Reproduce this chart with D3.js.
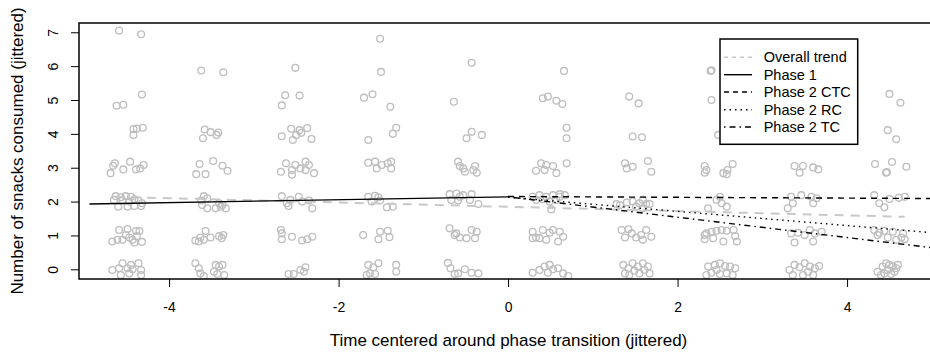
<!DOCTYPE html>
<html><head><meta charset="utf-8">
<script src="https://cdn.jsdelivr.net/npm/d3@7"></script>
<style>
body{margin:0;background:#fff}
text{font-family:"Liberation Sans",Arial,Helvetica,sans-serif;fill:#000}
</style>
</head><body>
<svg id="c" width="930" height="354"></svg>
<script>
// ---- data (jittered observations, one array per time point) ----
const t1 = [[-4.59,7.05],[-4.33,6.94],[-4.62,4.83],[-4.54,4.86],[-4.32,5.16],[-4.42,4.14],[-4.38,4.16],[-4.31,4.18],[-4.42,3.97],
 [-4.69,2.84],[-4.66,3.06],[-4.64,3.13],[-4.54,2.95],[-4.46,3.18],[-4.39,2.95],[-4.34,2.98],[-4.30,3.08],
 [-4.63,2.16],[-4.57,2.13],[-4.51,2.16],[-4.45,2.14],[-4.41,2.07],[-4.36,2.03],[-4.32,1.95],[-4.60,1.85],[-4.49,1.85],[-4.41,1.87],[-4.33,1.87],[-4.65,2.05],[-4.55,2.03],[-4.47,2.00],
 [-4.59,1.16],[-4.49,1.19],[-4.39,1.13],[-4.35,1.13],[-4.67,0.82],[-4.61,0.87],[-4.55,0.87],[-4.47,0.94],[-4.43,0.87],[-4.41,0.79],[-4.32,0.81],[-4.38,0.98],[-4.51,1.01],
 [-4.55,0.18],[-4.45,0.13],[-4.36,0.18],[-4.67,-0.02],[-4.59,0.03],[-4.49,0.03],[-4.43,0.00],[-4.33,-0.02],[-4.57,-0.17],[-4.47,-0.12],[-4.33,-0.17]];
const t2 = [[-3.62,5.87],[-3.36,5.82],[-3.58,4.13],[-3.51,4.05],[-3.44,3.97],[-3.42,4.04],[-3.60,3.87],
 [-3.64,3.11],[-3.48,3.20],[-3.37,3.06],[-3.31,2.91],[-3.68,2.81],[-3.57,2.81],
 [-3.59,2.16],[-3.55,2.10],[-3.62,2.03],[-3.61,1.90],[-3.55,1.80],[-3.45,1.80],[-3.39,1.85],[-3.33,1.80],[-3.41,1.95],[-3.37,1.90],
 [-3.57,1.13],[-3.63,0.94],[-3.69,0.85],[-3.59,0.87],[-3.51,0.94],[-3.41,0.98],[-3.36,1.01],[-3.38,0.92],[-3.65,0.82],
 [-3.69,0.18],[-3.65,0.03],[-3.63,-0.12],[-3.59,-0.20],[-3.45,0.13],[-3.41,0.08],[-3.37,0.13],[-3.47,-0.07],[-3.43,-0.14],[-3.35,-0.17]];
const t3 = [[-2.51,5.95],[-2.63,5.14],[-2.46,5.13],[-2.67,4.84],
 [-2.67,3.93],[-2.56,4.15],[-2.46,4.11],[-2.37,4.17],[-2.32,3.85],[-2.54,3.82],[-2.50,3.97],[-2.44,4.03],
 [-2.62,3.13],[-2.51,3.08],[-2.39,3.18],[-2.35,3.08],[-2.68,2.88],[-2.55,2.93],[-2.55,2.79],[-2.39,2.93],[-2.29,2.84],[-2.45,2.98],
 [-2.67,2.16],[-2.57,2.05],[-2.47,2.14],[-2.35,2.03],[-2.59,1.87],[-2.61,1.95],[-2.43,2.00],[-2.31,1.80],
 [-2.68,1.16],[-2.67,1.06],[-2.67,0.89],[-2.55,0.96],[-2.43,0.85],[-2.37,0.89],[-2.31,0.96],
 [-2.59,-0.14],[-2.53,-0.14],[-2.45,-0.02],[-2.39,0.06],[-2.41,-0.07]];
const t4 = [[-1.51,6.81],[-1.50,5.83],[-1.70,5.07],[-1.60,5.17],[-1.39,4.80],[-1.65,3.82],[-1.36,4.00],[-1.32,4.18],
 [-1.65,3.15],[-1.57,3.18],[-1.49,3.08],[-1.42,3.13],[-1.38,3.18],[-1.38,2.98],[-1.55,2.98],
 [-1.65,2.14],[-1.57,2.17],[-1.53,2.13],[-1.61,2.00],[-1.43,1.83],[-1.36,1.85],[-1.51,2.03],
 [-1.71,1.01],[-1.51,1.11],[-1.42,1.14],[-1.53,0.89],[-1.40,0.95],
 [-1.65,0.13],[-1.59,0.06],[-1.53,0.18],[-1.63,-0.12],[-1.57,-0.14],[-1.67,-0.17],[-1.32,0.13],[-1.32,-0.07]];
const t5 = [[-0.43,6.10],[-0.64,4.95],[-0.49,3.87],[-0.43,4.06],[-0.31,3.97],
 [-0.59,3.18],[-0.57,3.05],[-0.51,2.88],[-0.39,3.05],[-0.37,2.85],[-0.41,2.93],[-0.53,2.98],
 [-0.69,2.22],[-0.61,2.24],[-0.53,2.19],[-0.43,2.22],[-0.67,2.05],[-0.59,2.03],[-0.35,1.93],[-0.45,2.05],[-0.57,2.14],
 [-0.69,1.21],[-0.63,1.01],[-0.57,0.94],[-0.49,0.92],[-0.43,1.16],[-0.37,1.11],[-0.39,0.92],[-0.61,1.06],
 [-0.71,0.19],[-0.68,0.03],[-0.59,-0.12],[-0.51,0.00],[-0.43,-0.10],[-0.35,-0.12],[-0.63,-0.14]];
const t6 = [[0.66,5.86],[0.41,5.05],[0.47,5.10],[0.57,4.98],[0.64,4.88],[0.69,4.18],[0.69,3.87],
 [0.33,2.91],[0.39,3.13],[0.45,3.08],[0.53,3.05],[0.57,2.84],[0.69,3.13],[0.43,2.93],
 [0.29,2.14],[0.37,2.19],[0.45,2.14],[0.53,2.19],[0.61,2.22],[0.67,2.19],[0.33,2.05],[0.41,2.07],[0.49,2.00],[0.57,2.05],[0.51,1.77],[0.61,2.14],
 [0.29,1.11],[0.33,0.94],[0.41,1.16],[0.49,1.08],[0.53,1.16],[0.61,1.11],[0.65,0.96],[0.45,0.87],[0.37,0.92],[0.59,0.82],[0.29,0.92],
 [0.29,-0.10],[0.37,-0.02],[0.43,0.08],[0.49,0.13],[0.53,0.00],[0.59,0.03],[0.65,-0.12],[0.71,-0.20],[0.47,-0.10]];
const t7 = [[1.43,5.10],[1.54,4.90],[1.47,3.92],[1.58,3.90],
 [1.38,3.13],[1.40,2.98],[1.47,3.03],[1.65,3.20],[1.69,2.88],
 [1.32,1.90],[1.40,1.97],[1.47,2.00],[1.55,1.95],[1.63,1.93],[1.51,1.85],[1.59,1.80],[1.28,1.93],[1.67,1.93],[1.59,2.05],
 [1.34,1.16],[1.42,1.18],[1.46,1.06],[1.51,0.94],[1.57,1.01],[1.63,1.16],[1.69,0.96],[1.59,0.87],[1.38,0.94],
 [1.36,0.13],[1.42,0.03],[1.47,0.18],[1.53,0.08],[1.59,0.18],[1.65,0.08],[1.67,-0.12],[1.55,-0.12],[1.43,-0.17],[1.38,-0.12],[1.61,-0.02],[1.49,-0.04]];
const t8 = [[2.39,5.86],[2.40,5.88],[2.40,5.00],[2.48,3.97],
 [2.32,3.05],[2.32,2.85],[2.54,2.84],[2.59,2.93],[2.65,3.11],[2.58,2.81],[2.34,2.93],
 [2.50,2.14],[2.52,1.95],[2.58,1.85],[2.36,1.80],[2.46,2.05],
 [2.32,0.89],[2.34,1.06],[2.40,1.11],[2.46,1.14],[2.52,1.16],[2.58,1.14],[2.66,1.16],[2.68,0.98],[2.70,0.82],[2.54,0.82],[2.42,0.92],[2.32,1.01],
 [2.36,0.08],[2.44,0.13],[2.50,0.18],[2.56,0.10],[2.62,0.08],[2.68,0.03],[2.40,-0.10],[2.50,-0.14],[2.58,-0.12],[2.65,-0.17],[2.46,-0.02],[2.34,-0.17]];
const t9 = [[3.38,3.05],[3.48,3.05],[3.44,2.85],[3.60,3.01],[3.66,2.95],
 [3.34,2.14],[3.46,2.19],[3.58,2.14],[3.64,2.10],[3.36,1.95],[3.30,1.80],[3.60,1.95],
 [3.34,1.06],[3.42,1.08],[3.50,1.01],[3.56,1.16],[3.62,1.06],[3.70,1.11],[3.38,0.79],[3.60,0.82],
 [3.32,-0.02],[3.38,0.13],[3.44,0.06],[3.50,0.18],[3.56,0.08],[3.62,0.03],[3.67,0.10],[3.36,-0.17],[3.48,-0.17],[3.60,-0.17],[3.54,-0.07]];
const t10 = [[4.50,5.18],[4.63,4.92],[4.48,4.11],[4.58,3.84],
 [4.33,3.11],[4.53,3.17],[4.70,3.03],[4.46,2.85],[4.47,2.87],
 [4.32,2.19],[4.50,2.08],[4.61,2.11],[4.68,2.14],[4.38,1.95],[4.44,1.83],
 [4.32,1.16],[4.36,1.01],[4.44,1.14],[4.48,0.94],[4.54,1.11],[4.58,0.87],[4.64,0.94],[4.68,0.89],[4.38,1.08],[4.66,1.06],
 [4.36,-0.07],[4.42,0.08],[4.46,0.18],[4.50,0.13],[4.54,0.08],[4.58,0.03],[4.44,-0.12],[4.52,-0.14],[4.48,-0.02],[4.56,-0.07],[4.40,-0.17],[4.60,0.13]];

// fitted lines (x, y end points)
const trendX = [-4.64, 4.68], trendY = [2.14, 1.55];
const phase1X = [-4.94, 0],   phase1Y = [1.93, 2.14];
const ctcX = [0, 5.06],       ctcY = [2.15, 2.09];
const rcX = [0, 5.06],        rcY = [2.13, 1.07];
const tcX = [0, 5.06],        tcY = [2.14, 0.62];

const xTicks = [-4, -2, 0, 2, 4];
const yTicks = [0, 1, 2, 3, 4, 5, 6, 7];
const legendLabels = ["Overall trend", "Phase 1", "Phase 2 CTC", "Phase 2 RC", "Phase 2 TC"];
const xTitle = "Time centered around phase transition (jittered)";
const yTitle = "Number of snacks consumed (jittered)";

// ---- drawing ----
const svg = d3.select("#c");
const L = 79, T = 23, B = 279, R = 936.9;
const x = d3.scaleLinear().domain([-5.063, 5.06]).range([L, R]);
const y = d3.scaleLinear().domain([-0.286, 7.274]).range([B, T]);

svg.append("defs").append("clipPath").attr("id", "clip")
  .append("rect").attr("x", L).attr("y", T).attr("width", R - L).attr("height", B - T);

const plot = svg.append("g").attr("clip-path", "url(#clip)");
const allPts = [].concat(t1, t2, t3, t4, t5, t6, t7, t8, t9, t10);
plot.selectAll("circle.pt").data(allPts).join("circle")
  .attr("class", "pt")
  .attr("cx", d => x(d[0])).attr("cy", d => y(d[1])).attr("r", 3.4)
  .attr("fill", "none").attr("stroke", "#bebebe").attr("stroke-width", 1.3);

const line = d3.line().x(d => x(d[0])).y(d => y(d[1]));
const zipXY = (xs, ys) => xs.map((v, i) => [v, ys[i]]);
const styles = [
  {xs: trendX, ys: trendY, color: "#c8c8c8", w: 2, dash: "9,7"},
  {xs: phase1X, ys: phase1Y, color: "#000", w: 1.4, dash: null},
  {xs: ctcX, ys: ctcY, color: "#000", w: 1.4, dash: "6,5"},
  {xs: rcX, ys: rcY, color: "#000", w: 1.4, dash: "1.5,4"},
  {xs: tcX, ys: tcY, color: "#000", w: 1.4, dash: "1.5,4,6,4"}
];
styles.forEach(s => {
  plot.append("path").attr("d", line(zipXY(s.xs, s.ys)))
    .attr("fill", "none").attr("stroke", s.color).attr("stroke-width", s.w)
    .attr("stroke-dasharray", s.dash);
});

// axes
const xAxis = svg.append("g").attr("transform", `translate(0,${B})`)
  .call(d3.axisBottom(x).tickValues(xTicks).tickSize(8).tickFormat(d => String(d)));
xAxis.select(".domain").remove();
xAxis.selectAll("line").attr("stroke", "#000").attr("stroke-width", 1);
xAxis.selectAll("text").attr("y", 32.5).attr("dy", 0).attr("font-size", 14)
  .style("font-family", '"Liberation Sans",Arial,sans-serif').attr("fill", "#000");

const yAxis = svg.append("g").attr("transform", `translate(${L},0)`)
  .call(d3.axisLeft(y).tickValues(yTicks).tickSize(8).tickFormat(d => String(d)));
yAxis.select(".domain").remove();
yAxis.selectAll("line").attr("stroke", "#000").attr("stroke-width", 1);
yAxis.selectAll("text").attr("x", 0).attr("dy", 0).attr("text-anchor", "middle")
  .attr("transform", "translate(-21.5,0) rotate(-90)").attr("font-size", 14)
  .style("font-family", '"Liberation Sans",Arial,sans-serif').attr("fill", "#000");

// box
svg.append("rect").attr("x", L).attr("y", T).attr("width", R - L).attr("height", B - T)
  .attr("fill", "none").attr("stroke", "#000").attr("stroke-width", 1.5);

// titles
svg.append("text").attr("x", 508.5).attr("y", 346).attr("text-anchor", "middle")
  .attr("font-size", 17).text(xTitle);
svg.append("text").attr("transform", `translate(23,${(T + B) / 2}) rotate(-90)`)
  .attr("text-anchor", "middle").attr("font-size", 17).text(yTitle);

// legend
const lg = svg.append("g");
lg.append("rect").attr("x", 720).attr("y", 39).attr("width", 137.7).attr("height", 105.3)
  .attr("fill", "#fff").attr("stroke", "#000").attr("stroke-width", 1.5);
const rowY = [57.3, 74.7, 92, 109.7, 127];
legendLabels.forEach((lab, i) => {
  const s = styles[i];
  lg.append("line").attr("x1", 724).attr("x2", 752).attr("y1", rowY[i]).attr("y2", rowY[i])
    .attr("stroke", s.color).attr("stroke-width", i === 0 ? 1.4 : 1.4)
    .attr("stroke-dasharray", i === 0 ? "4,4" : (i === 2 ? "5,4" : s.dash));
  lg.append("text").attr("x", 763.7).attr("y", rowY[i] + 5).attr("font-size", 14.5).text(lab);
});
</script>
</body></html>
